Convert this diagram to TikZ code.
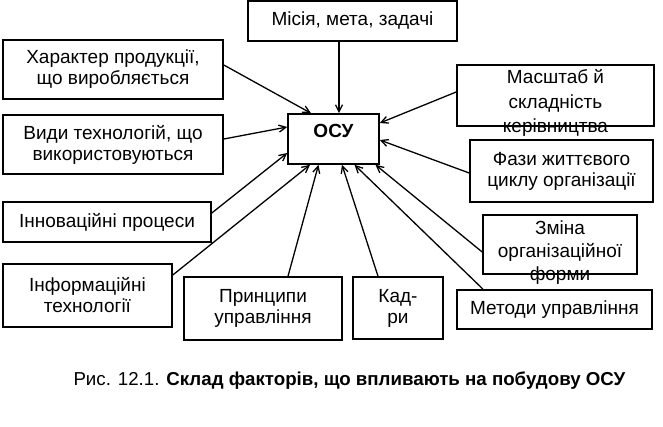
\documentclass[tikz,border=0pt]{standalone}
\usepackage{fontspec}
\setmainfont{Liberation Sans}
\usetikzlibrary{arrows.meta,calc}
\begin{document}
\begin{tikzpicture}[x=1pt,y=-1pt,
  box/.style={draw,line width=1.6pt,inner sep=0pt,align=center,font=\fontsize{19}{21}\selectfont},
  lbl/.style={inner sep=0pt,align=center,font=\fontsize{19}{21}\selectfont},
  arr/.style={line width=1.3pt,-{Straight Barb[length=7pt,width=7pt,line width=1.3pt]}}]
\useasboundingbox (0,0) rectangle (663,426);
% boxes
\node[box,minimum width=209pt,minimum height=40pt] (mis) at (352.5,21) {Місія, мета, задачі};
\node[box,minimum width=220pt,minimum height=59pt] (har) at (113,69.5) {Характер продукції,\\що виробляється};
\node[box,minimum width=220pt,minimum height=59pt] (vyd) at (113,144.5) {Види технологій, що\\використовуються};
\node[box,minimum width=91pt,minimum height=50pt] (osu) at (333.5,139) {};
\node[lbl,font=\fontsize{19}{21}\selectfont\bfseries] (osuT) at (333.5,131) {ОСУ};
\node[box,minimum width=197pt,minimum height=61pt] (mas) at (555.5,95.5) {};
\node[lbl,font=\fontsize{19}{24.5}\selectfont] (masT) at (555.5,103) {Масштаб й\\складність\\керівництва};
\node[box,minimum width=183pt,minimum height=62pt] (faz) at (561.5,171) {Фази життєвого\\циклу організації};
\node[box,minimum width=208pt,minimum height=40pt] (inn) at (107,222) {Інноваційні процеси};
\node[box,minimum width=154pt,minimum height=59pt] (zmi) at (560,244.5) {};
\node[lbl,font=\fontsize{19}{23}\selectfont] (zmiT) at (560,253) {Зміна\\організаційної\\форми};
\node[box,minimum width=169pt,minimum height=63pt] (inf) at (87.5,295.5) {Інформаційні\\технології};
\node[box,minimum width=158pt,minimum height=63pt] (pry) at (263,308.5) {Принципи\\управління};
\node[box,minimum width=90pt,minimum height=62pt] (kad) at (398,308) {Кад-\\ри};
\node[box,minimum width=195pt,minimum height=39pt] (met) at (554.5,309.5) {Методи управління};
% caption
\node[lbl,font=\fontsize{18.7}{21}\selectfont] (cap) at (349.5,381) {Рис. 12.1. \textbf{Склад факторів, що впливають на побудову ОСУ}};
% connectors
\draw[arr] ([xshift=-13.5pt]mis.south) -- ([xshift=5.5pt]osu.north);
\draw[arr] ([yshift=4.5pt]har.east) -- ([xshift=-22.5pt]osu.north);
\draw[arr] ([yshift=5.5pt]vyd.east) -- ([yshift=12pt]osu.west);
\draw[arr] ([yshift=9pt]inn.east) -- ([yshift=-14pt]osu.west);
\draw[arr] ([yshift=20.5pt]inf.east) -- ([xshift=-23.5pt]osu.south);
\draw[arr] ([xshift=25pt]pry.north) -- ([xshift=-15pt]osu.south);
\draw[arr] ([xshift=-20pt]kad.north) -- ([xshift=8.5pt]osu.south);
\draw[arr] ([xshift=-71.5pt]met.north) -- ([xshift=21pt]osu.south);
\draw[arr] ([yshift=-7.5pt]zmi.west) -- ([xshift=42pt]osu.south);
\draw[arr] ([yshift=3.5pt]mas.west) -- ([yshift=16pt]osu.east);
\draw[arr] ([yshift=-2pt]faz.west) -- ([yshift=-1pt]osu.east);
\end{tikzpicture}
\end{document}
